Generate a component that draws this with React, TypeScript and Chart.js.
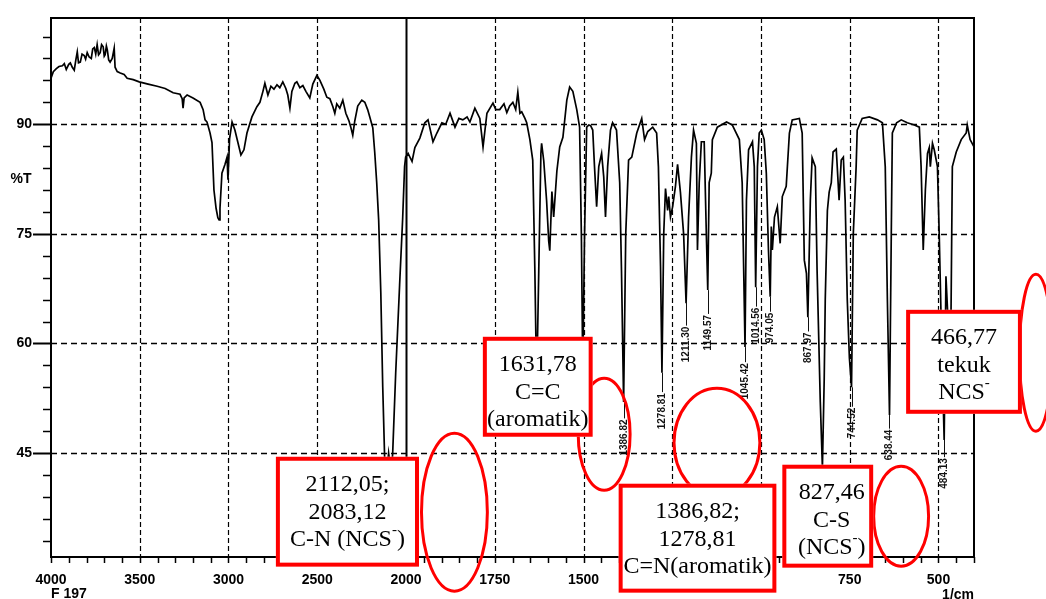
import React, { useEffect, useRef } from 'react';
import { Chart, registerables } from 'chart.js';
Chart.register(...registerables);

// ---------- DATA ----------
const wavenumbers = [
  4000, 3987, 3970, 3955, 3936, 3925, 3914, 3900, 3891, 3880, 3869, 3860, 3852, 3845, 3835, 3825, 3813, 3805, 3796, 3785,
  3773, 3765, 3756, 3748, 3740, 3732, 3723, 3715, 3706, 3700, 3695, 3688, 3683, 3675, 3667, 3655, 3644, 3639, 3627, 3610,
  3588, 3571, 3537, 3503, 3453, 3402, 3357, 3312, 3273, 3261, 3256, 3250, 3233, 3200, 3160, 3143, 3132, 3121, 3104, 3093,
  3082, 3070, 3060, 3053, 3048, 3037, 3020, 3008, 3003, 2994, 2980, 2964, 2947, 2930, 2913, 2896, 2868, 2840, 2823, 2806,
  2795, 2778, 2761, 2744, 2727, 2711, 2694, 2677, 2666, 2654, 2643, 2626, 2615, 2598, 2581, 2564, 2542, 2525, 2502, 2485,
  2463, 2446, 2429, 2412, 2401, 2390, 2373, 2356, 2339, 2322, 2311, 2300, 2289, 2272, 2249, 2232, 2216, 2204, 2187, 2176,
  2165, 2154, 2142, 2131, 2120, 2112, 2098, 2083, 2075, 2058, 2036, 2019, 2008, 2002,
  1994, 1983, 1975, 1961, 1947, 1938, 1924, 1913, 1899, 1888, 1876, 1862, 1851, 1840, 1828, 1820, 1806, 1792, 1783, 1772,
  1755, 1747, 1736, 1724, 1716, 1708, 1699, 1691, 1685, 1679, 1674, 1665, 1660, 1651, 1643, 1637, 1632, 1626, 1620, 1618,
  1612, 1604, 1598, 1595, 1589, 1584, 1575, 1567, 1558, 1547, 1539, 1530, 1519, 1511, 1506, 1502, 1497, 1491, 1485, 1480,
  1474, 1469, 1463, 1457, 1449, 1443, 1438, 1432, 1424, 1418, 1407, 1398, 1393, 1387, 1381, 1373, 1364, 1350, 1336, 1328,
  1319, 1305, 1294, 1289, 1283, 1279, 1274, 1269, 1263, 1260, 1255, 1249, 1241, 1235, 1227, 1218, 1211, 1204, 1196, 1190,
  1182, 1179, 1174, 1168, 1160, 1154, 1150, 1146, 1140, 1137, 1123, 1097, 1081, 1061, 1053, 1045, 1041, 1035, 1024, 1019,
  1015, 1010, 1005, 999, 991, 985, 979, 974, 971, 968, 962, 954, 946, 940, 929, 920, 912, 892, 884, 878,
  872, 868, 861, 856, 847, 842, 833, 827, 822, 819, 813, 808, 802, 797, 788, 780, 774, 768, 763, 757,
  751, 745, 740, 732, 729, 715, 695, 672, 658, 650, 644, 638, 633, 630, 618, 605, 588, 568, 554, 549,
  543, 537, 531, 526, 523, 517, 512, 503, 498, 492, 484, 479, 473, 467, 461, 450, 436, 422, 419, 411, 400,
];
const transmittance = [
  96.3, 97.2, 97.6, 97.9, 98.0, 98.3, 97.5, 98.2, 98.4, 97.8, 97.4, 98.8, 99.9, 98.4, 98.5, 99.6, 99.4, 98.9, 99.8, 99.2,
  99.0, 100.3, 100.5, 99.6, 100.9, 99.5, 99.8, 100.9, 100.6, 99.3, 99.5, 100.7, 100.2, 98.8, 98.5, 99.0, 100.4, 97.8, 97.2, 97.0,
  96.8, 96.3, 96.1, 95.8, 95.5, 95.2, 94.9, 94.3, 94.1, 93.5, 92.2, 93.6, 94.0, 93.6, 93.0, 92.0, 90.6, 90.3, 88.8, 87.5,
  81.0, 78.5, 77.2, 76.9, 78.5, 83.3, 84.5, 85.5, 82.4, 88.0, 90.3, 89.2, 87.5, 85.8, 86.5, 88.8, 91.0, 92.4, 93.0, 94.5,
  95.6, 94.0, 95.2, 94.8, 95.4, 95.0, 95.8, 94.9, 94.0, 92.2, 94.5, 95.6, 95.8, 95.0, 95.3, 94.5, 93.6, 95.5, 96.7, 96.0,
  94.8, 93.7, 93.5, 92.4, 91.5, 92.8, 92.2, 93.3, 91.5, 90.5, 89.6, 88.5, 90.4, 92.5, 93.3, 93.0, 92.0, 91.0, 89.5, 86.1,
  82.0, 76.9, 67.0, 54.0, 44.0, 41.5, 45.0, 42.0, 45.0, 56.0, 68.0, 77.0, 84.2, 85.5,
  86.0, 84.9, 86.8, 88.1, 90.2, 90.6, 87.6, 88.8, 90.2, 90.0, 91.5, 89.6, 90.8, 90.6, 91.0, 90.3, 92.2, 90.8, 86.9, 91.5,
  92.9, 92.0, 92.0, 92.8, 91.6, 92.5, 93.0, 92.0, 94.4, 91.5, 91.7, 90.8, 90.2, 87.9, 85.1, 70.0, 54.0, 70.0, 86.0, 87.4,
  85.0, 79.6, 74.0, 72.7, 80.8, 77.3, 83.6, 86.9, 88.2, 93.3, 95.1, 94.5, 92.0, 89.6, 75.0, 56.0, 75.0, 89.6, 89.9, 89.8,
  89.2, 84.2, 78.7, 84.2, 86.0, 82.8, 77.3, 84.2, 89.2, 90.2, 89.2, 82.0, 70.0, 52.0, 75.0, 85.1, 85.5, 88.8, 90.8, 87.9,
  89.0, 89.6, 88.8, 84.2, 70.5, 56.0, 75.0, 81.2, 78.2, 80.1, 77.3, 78.7, 81.5, 84.5, 80.7, 75.0, 65.5, 77.3, 85.5, 89.2,
  87.4, 72.8, 82.0, 87.6, 87.6, 75.0, 67.3, 82.0, 83.3, 87.9, 89.6, 90.3, 89.9, 87.9, 82.0, 59.5, 79.6, 86.5, 87.6, 84.2,
  67.7, 84.2, 88.8, 89.2, 87.9, 83.3, 72.8, 66.4, 76.0, 72.8, 77.3, 78.7, 73.7, 80.1, 81.5, 88.8, 90.6, 90.8, 88.8, 71.4,
  69.6, 63.6, 79.6, 85.4, 84.2, 70.0, 52.0, 43.0, 55.0, 66.0, 78.2, 80.7, 82.0, 86.2, 86.6, 79.6, 85.1, 85.5, 79.6, 66.0,
  58.0, 54.0, 75.0, 84.2, 89.2, 90.8, 91.0, 90.6, 90.2, 84.2, 66.0, 50.2, 75.0, 88.8, 90.2, 90.6, 90.2, 89.9, 89.6, 84.2,
  72.8, 81.0, 86.0, 86.8, 84.2, 87.4, 86.5, 84.2, 75.0, 62.0, 46.8, 69.2, 63.0, 52.0, 84.2, 86.2, 87.9, 88.8, 89.9, 87.9, 86.9,
];

const xTickLabels = ['4000', '3500', '3000', '2500', '2000', '1750', '1500', '1250', '1000', '750', '500'];
const xAxisEnd = 400;
const yMin = 30.77;
const yMax = 104.54;
const yMajorTicks = [45, 60, 75, 90];
const yMinorTicks = [33, 36, 39, 42, 48, 51, 54, 57, 63, 66, 69, 72, 78, 81, 84, 87, 93, 96, 99, 102];
const solidGridWavenumber = 2000;

const peakLabelWn = [1386.82, 1278.81, 1211.3, 1149.57, 1045.42, 1014.56, 974.05, 867.97, 744.52, 638.44, 484.13];
const peakLineTopT = [52.0, 56.0, 65.6, 67.3, 59.5, 67.7, 66.4, 63.6, 54.0, 50.2, 46.8];
const peakTextTopT = [49.6, 53.2, 62.3, 63.9, 57.3, 64.9, 64.2, 61.5, 51.2, 48.2, 44.3];

const boxLines = [
  ['2112,05;', '2083,12', 'C-N (NCS^-)'],
  ['1631,78', 'C=C', '(aromatik)'],
  ['1386,82;', '1278,81', 'C=N(aromatik)'],
  ['827,46', 'C-S', '(NCS^-)'],
  ['466,77', 'tekuk', 'NCS^-'],
];
const boxWn = [[2733, 1963.4], [1783.5, 1474.2], [1401, 956.7], [939.9, 684], [591.2, 265]];
const boxT = [[44.49, 29.45], [60.91, 47.23], [40.8, 25.89], [43.4, 29.31], [64.6, 50.37]];
const boxTextShift = [0, 0, 0, 4, 0];

const ellipseWn = [[1960.6, 1766.6], [1519.1, 1364.5], [1249.2, 999], [686.8, 523.7], [276.2, 175]];
const ellipseT = [[47.91, 25.89], [55.44, 39.71], [54.07, 38.75], [43.4, 29.31], [69.66, 47.78]];

const yAxisTitle = '%T';
const yAxisTitleT = 82.5;
const sampleName = 'F 197';
const xUnit = '1/cm';

// ---------- helpers ----------
// split wavenumber axis: 500 cm-1 per division above 2000, 250 below
const toU = (wn: number) => (wn >= 2000 ? (4000 - wn) / 500 : 4 + (2000 - wn) / 250);
const xMinorTicks: number[] = [];
for (let i = 0; i <= Math.round(toU(xAxisEnd) * 5); i++) xMinorTicks.push(Math.round(i * 2) / 10);

const RED = '#ff0000';
const SANS = '"Liberation Sans", Arial, sans-serif';
const SERIF = '"Liberation Serif", "Times New Roman", serif';

function drawRich(ctx: CanvasRenderingContext2D, text: string, cx: number, cy: number) {
  const parts = text.split('^');
  const main = parts[0];
  const sup = parts.length > 1 ? parts[1].charAt(0) : '';
  const rest = parts.length > 1 ? parts[1].slice(1) : '';
  const mainFont = `24px ${SERIF}`;
  const supFont = `15px ${SERIF}`;
  ctx.font = mainFont;
  const w1 = ctx.measureText(main).width;
  const w3 = rest ? ctx.measureText(rest).width : 0;
  ctx.font = supFont;
  const w2 = sup ? ctx.measureText(sup).width : 0;
  let x = cx - (w1 + w2 + w3) / 2;
  ctx.textAlign = 'left';
  ctx.textBaseline = 'middle';
  ctx.font = mainFont;
  ctx.fillText(main, x, cy);
  x += w1;
  if (sup) {
    ctx.font = supFont;
    ctx.textBaseline = 'alphabetic';
    ctx.fillText(sup, x, cy - 6);
    x += w2;
    ctx.textBaseline = 'middle';
  }
  if (rest) {
    ctx.font = mainFont;
    ctx.fillText(rest, x, cy);
  }
}

const decorPlugin = {
  id: 'irDecor',
  beforeDatasetsDraw(chart: any) {
    const { ctx, chartArea: a, scales } = chart;
    const x = scales.x, y = scales.y;
    ctx.save();
    ctx.strokeStyle = '#000';
    ctx.lineWidth = 1.4;
    ctx.setLineDash([6, 4]);
    yMajorTicks.forEach((v) => {
      const py = Math.round(y.getPixelForValue(v)) + 0.5;
      ctx.beginPath();
      ctx.moveTo(a.left, py);
      ctx.lineTo(a.right, py);
      ctx.stroke();
    });
    xTickLabels.forEach((l) => {
      const wn = Number(l);
      const px = Math.round(x.getPixelForValue(toU(wn))) + 0.5;
      if (px <= a.left + 1) return;
      ctx.beginPath();
      if (wn === solidGridWavenumber) {
        ctx.setLineDash([]);
        ctx.lineWidth = 2;
      } else {
        ctx.setLineDash([5, 3]);
        ctx.lineWidth = 1.2;
      }
      ctx.moveTo(px, a.top);
      ctx.lineTo(px, a.bottom);
      ctx.stroke();
    });
    ctx.restore();
  },
  afterDatasetsDraw(chart: any) {
    const { ctx, chartArea: a, scales } = chart;
    const x = scales.x, y = scales.y;
    ctx.save();
    ctx.setLineDash([]);
    ctx.strokeStyle = '#000';
    ctx.lineWidth = 2;
    ctx.strokeRect(a.left, a.top, a.right - a.left, a.bottom - a.top);
    ctx.lineWidth = 1.5;
    xMinorTicks.forEach((u) => {
      const px = Math.round(x.getPixelForValue(u)) + 0.5;
      ctx.beginPath();
      ctx.moveTo(px, a.bottom);
      ctx.lineTo(px, a.bottom + 6);
      ctx.stroke();
    });
    yMinorTicks.forEach((v) => {
      const py = Math.round(y.getPixelForValue(v)) + 0.5;
      ctx.beginPath();
      ctx.moveTo(a.left, py);
      ctx.lineTo(a.left - 8, py);
      ctx.stroke();
    });
    ctx.lineWidth = 2;
    yMajorTicks.forEach((v) => {
      const py = Math.round(y.getPixelForValue(v)) + 0.5;
      ctx.beginPath();
      ctx.moveTo(a.left, py);
      ctx.lineTo(a.left - 18, py);
      ctx.stroke();
    });
    ctx.restore();
  },
  afterDraw(chart: any) {
    const { ctx, chartArea: a, scales } = chart;
    const x = scales.x, y = scales.y;
    const px = (wn: number) => x.getPixelForValue(toU(wn));
    const py = (t: number) => y.getPixelForValue(t);
    ctx.save();
    ctx.fillStyle = '#111';
    ctx.strokeStyle = '#111';
    ctx.lineWidth = 1;
    peakLabelWn.forEach((wn, i) => {
      const X = Math.round(px(wn)) + 0.5;
      const yTop = py(peakLineTopT[i]);
      const yText = py(peakTextTopT[i]);
      ctx.beginPath();
      ctx.moveTo(X, yTop);
      ctx.lineTo(X, yText - 1);
      ctx.stroke();
      ctx.save();
      ctx.translate(X, yText);
      ctx.rotate(-Math.PI / 2);
      ctx.font = `bold 10px ${SANS}`;
      ctx.textAlign = 'right';
      ctx.textBaseline = 'middle';
      ctx.fillText(wn.toFixed(2), 0, 0);
      ctx.restore();
    });
    ctx.fillStyle = '#000';
    ctx.font = `bold 14px ${SANS}`;
    ctx.textBaseline = 'middle';
    ctx.textAlign = 'center';
    ctx.fillText(yAxisTitle, a.left - 30, py(yAxisTitleT));
    ctx.textAlign = 'left';
    ctx.fillText(sampleName, a.left, a.bottom + 37);
    ctx.textAlign = 'right';
    ctx.fillText(xUnit, a.right, a.bottom + 38);
    ctx.strokeStyle = RED;
    ctx.lineWidth = 3;
    ellipseWn.forEach((w, i) => {
      const x1 = px(w[0]), x2 = px(w[1]);
      const y1 = py(ellipseT[i][0]), y2 = py(ellipseT[i][1]);
      ctx.beginPath();
      ctx.ellipse((x1 + x2) / 2, (y1 + y2) / 2, Math.abs(x2 - x1) / 2 - 1.5, Math.abs(y2 - y1) / 2 - 1.5, 0, 0, Math.PI * 2);
      ctx.stroke();
    });
    boxWn.forEach((w, i) => {
      const x1 = px(w[0]), x2 = px(w[1]);
      const y1 = py(boxT[i][0]), y2 = py(boxT[i][1]);
      ctx.fillStyle = '#fff';
      ctx.fillRect(x1, y1, x2 - x1, y2 - y1);
      ctx.strokeStyle = RED;
      ctx.lineWidth = 4;
      ctx.strokeRect(x1 + 2, y1 + 2, x2 - x1 - 4, y2 - y1 - 4);
      ctx.fillStyle = '#000';
      const cx = (x1 + x2) / 2 + boxTextShift[i];
      boxLines[i].forEach((line, j) => {
        drawRich(ctx, line, cx, y1 + 27.5 * (j + 1) + 0.5);
      });
    });
    ctx.restore();
  },
};

export default function App() {
  const ref = useRef<HTMLCanvasElement | null>(null);
  useEffect(() => {
    if (!ref.current) return;
    const points = wavenumbers.map((wn, i) => ({ x: toU(wn), y: transmittance[i] }));
    const majorU = xTickLabels.map((l) => toU(Number(l)));
    const chart = new Chart(ref.current, {
      type: 'scatter',
      data: {
        datasets: [
          {
            data: points,
            showLine: true,
            borderColor: '#000',
            borderWidth: 1.7,
            pointRadius: 0,
            tension: 0,
            fill: false,
          },
        ],
      },
      options: {
        animation: false,
        responsive: true,
        maintainAspectRatio: false,
        events: [],
        layout: { padding: { top: 18, right: 72, left: 0, bottom: 0 } },
        plugins: { legend: { display: false }, tooltip: { enabled: false } },
        scales: {
          x: {
            type: 'linear',
            position: 'bottom',
            min: 0,
            max: toU(xAxisEnd),
            grid: { display: false, drawTicks: false },
            border: { display: false },
            afterBuildTicks: (s: any) => {
              s.ticks = xMinorTicks.map((v) => ({ value: v }));
            },
            afterFit: (s: any) => {
              s.height = 42;
              s.paddingLeft = 0;
              s.paddingRight = 0;
            },
            ticks: {
              autoSkip: false,
              maxRotation: 0,
              minRotation: 0,
              padding: 15,
              color: '#000',
              font: { family: SANS, size: 14, weight: 'bold' },
              callback: (v: any) => {
                const idx = majorU.findIndex((u) => Math.abs(u - Number(v)) < 1e-6);
                return idx >= 0 ? xTickLabels[idx] : '';
              },
            },
          },
          y: {
            type: 'linear',
            min: yMin,
            max: yMax,
            grid: { display: false, drawTicks: false },
            border: { display: false },
            afterBuildTicks: (s: any) => {
              s.ticks = [...yMinorTicks, ...yMajorTicks].sort((p, q) => p - q).map((v) => ({ value: v }));
            },
            afterFit: (s: any) => {
              s.width = 51;
              s.paddingTop = 0;
              s.paddingBottom = 0;
            },
            ticks: {
              autoSkip: false,
              padding: 19,
              color: '#000',
              font: { family: SANS, size: 14, weight: 'bold' },
              callback: (v: any) => (yMajorTicks.includes(Number(v)) ? String(v) : ''),
            },
          },
        },
      } as any,
      plugins: [decorPlugin as any],
    });
    return () => chart.destroy();
  }, []);
  return (
    <div style={{ position: 'fixed', left: 0, top: 0, width: 1046, height: 599, background: '#fff' }}>
      <canvas ref={ref} />
    </div>
  );
}
